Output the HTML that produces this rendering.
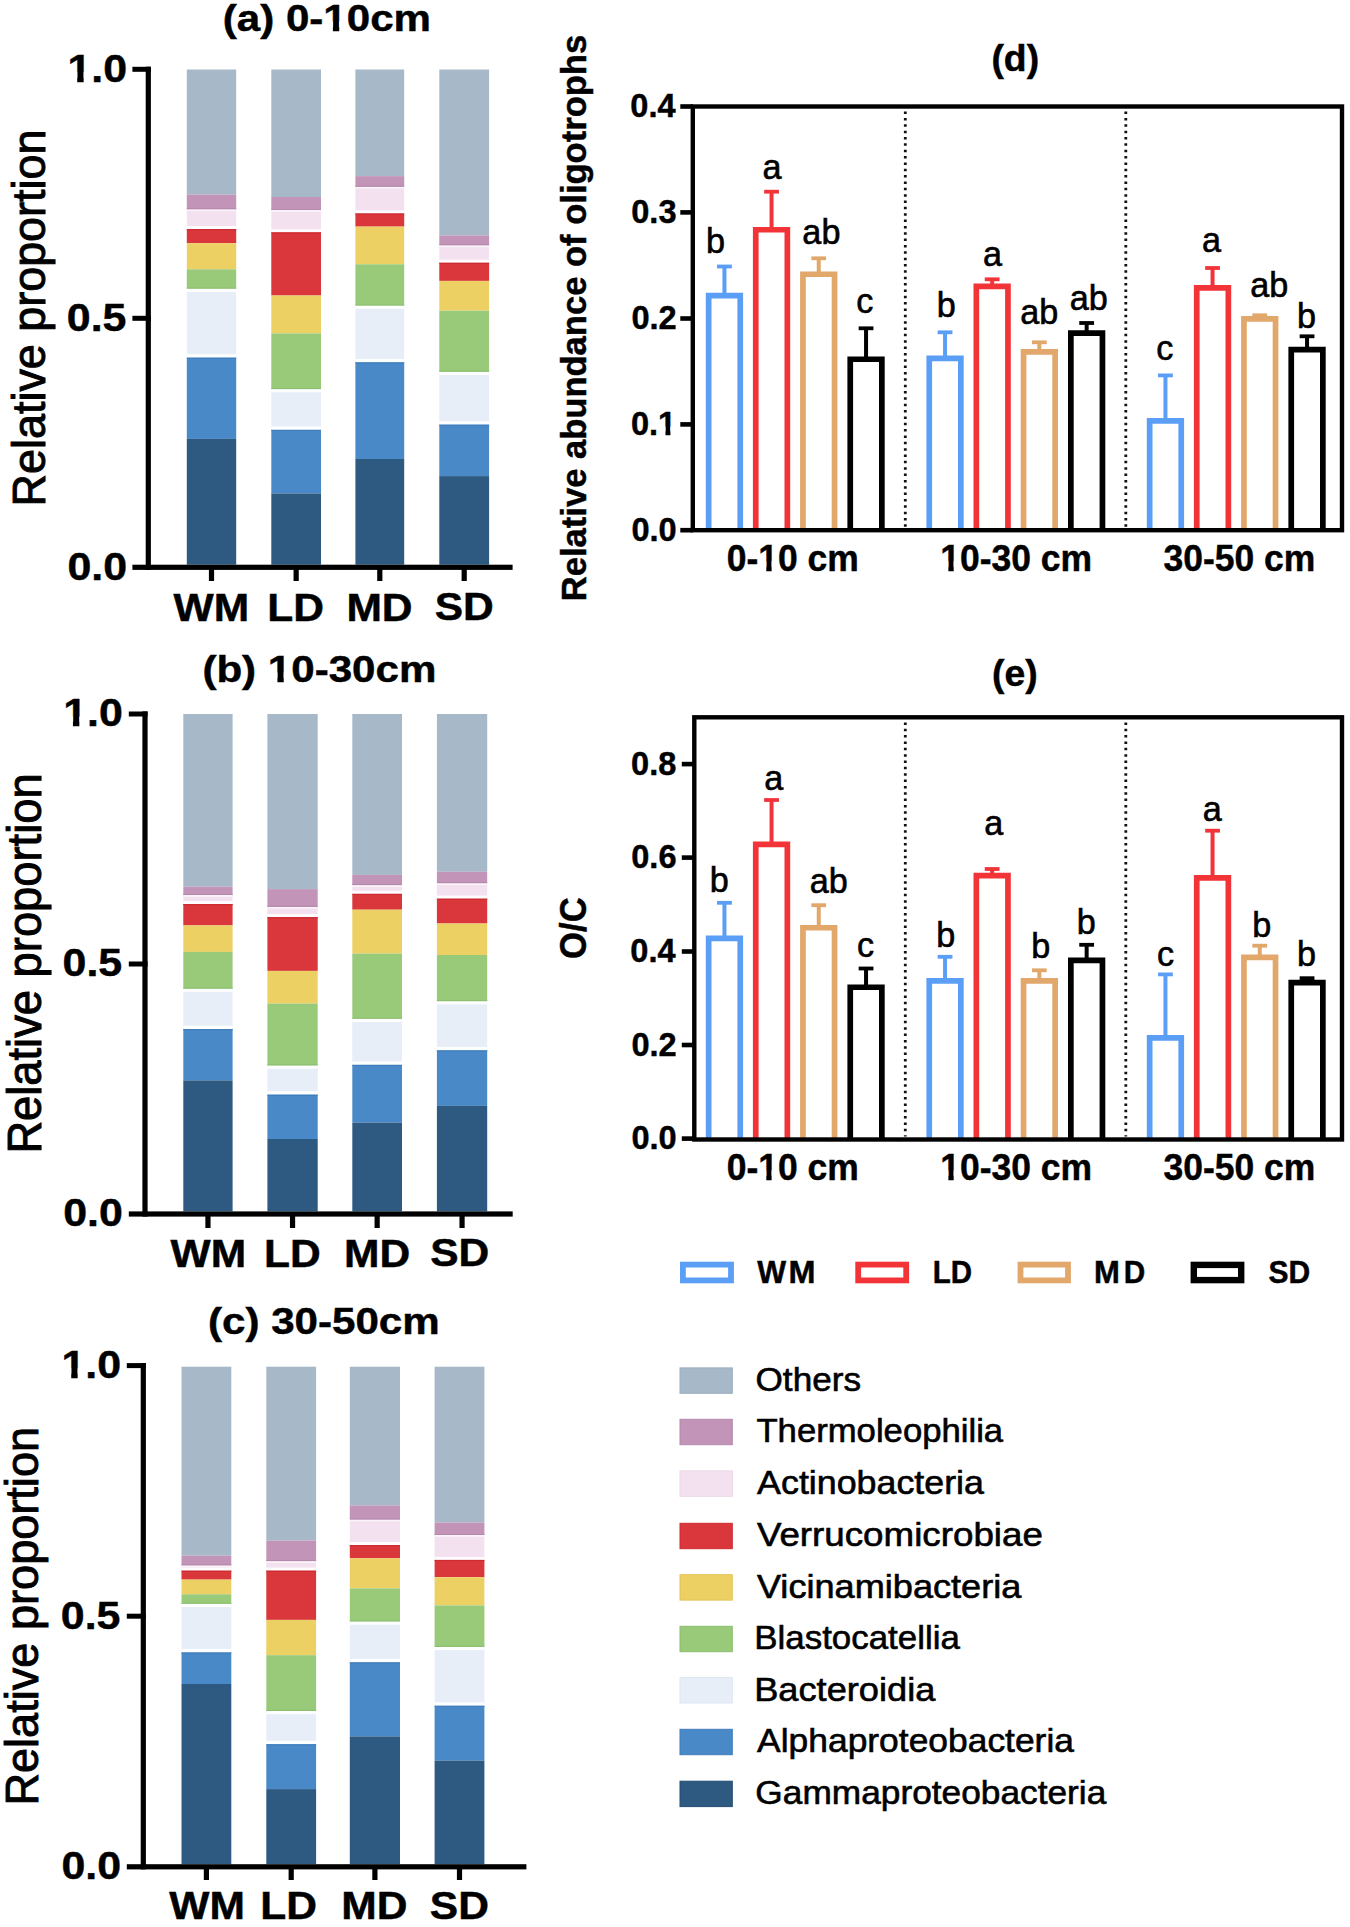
<!DOCTYPE html>
<html><head><meta charset="utf-8"><style>
html,body{margin:0;padding:0;background:#fff;}
svg{display:block;}
text{font-family:"Liberation Sans",sans-serif;}
text.b{stroke:#000;stroke-width:0.45px;}
text.r{stroke:#000;stroke-width:0.6px;}
text.rr{stroke:#000;stroke-width:0.9px;}
</style></head><body>
<svg width="1350" height="1927" viewBox="0 0 1350 1927">
<rect width="1350" height="1927" fill="#fff"/>
<text transform="translate(222.73,30.66) scale(1.1230,1)" font-size="37.50" font-weight="bold" fill="#000" class="b">(a) 0-10cm</text>
<g transform="translate(222.73,30.66) scale(1.1230,1)" fill="#fff"><rect x="90.69" y="-9.52" width="7.41" height="11.72"/><rect x="103.73" y="-9.52" width="6.92" height="11.72"/></g>
<rect x="186.80" y="69.50" width="49.40" height="125.10" fill="#a7b8c8"/>
<rect x="186.80" y="194.60" width="49.40" height="14.70" fill="#c295b8"/>
<rect x="186.80" y="209.30" width="49.40" height="19.70" fill="#f3e1ef"/>
<rect x="186.80" y="229.00" width="49.40" height="14.20" fill="#d9373b"/>
<rect x="186.80" y="243.20" width="49.40" height="26.10" fill="#edd063"/>
<rect x="186.80" y="269.30" width="49.40" height="19.40" fill="#98ca79"/>
<rect x="186.80" y="288.70" width="49.40" height="68.90" fill="#e7eef8"/>
<rect x="186.80" y="357.60" width="49.40" height="81.30" fill="#4a89c8"/>
<rect x="186.80" y="438.90" width="49.40" height="125.80" fill="#2e5a82"/>
<rect x="186.80" y="209.30" width="49.40" height="1.80" fill="#ffffff" fill-opacity="0.6"/>
<rect x="186.80" y="226.00" width="49.40" height="3.00" fill="#ffffff" fill-opacity="0.9"/>
<rect x="186.80" y="208.20" width="49.40" height="1.10" fill="#b688ac"/>
<rect x="186.80" y="229.00" width="49.40" height="1.20" fill="#cc2b30"/>
<rect x="186.80" y="288.70" width="49.40" height="3.20" fill="#ffffff" fill-opacity="0.9"/>
<rect x="186.80" y="354.20" width="49.40" height="3.40" fill="#ffffff" fill-opacity="0.9"/>
<rect x="186.80" y="287.60" width="49.40" height="1.10" fill="#8cbf6d"/>
<rect x="186.80" y="357.60" width="49.40" height="1.20" fill="#3f7dbb"/>
<rect x="271.30" y="69.50" width="49.70" height="127.50" fill="#a7b8c8"/>
<rect x="271.30" y="197.00" width="49.70" height="13.00" fill="#c295b8"/>
<rect x="271.30" y="210.00" width="49.70" height="22.30" fill="#f3e1ef"/>
<rect x="271.30" y="232.30" width="49.70" height="63.20" fill="#d9373b"/>
<rect x="271.30" y="295.50" width="49.70" height="37.90" fill="#edd063"/>
<rect x="271.30" y="333.40" width="49.70" height="55.70" fill="#98ca79"/>
<rect x="271.30" y="389.10" width="49.70" height="40.70" fill="#e7eef8"/>
<rect x="271.30" y="429.80" width="49.70" height="63.60" fill="#4a89c8"/>
<rect x="271.30" y="493.40" width="49.70" height="71.30" fill="#2e5a82"/>
<rect x="271.30" y="210.00" width="49.70" height="1.80" fill="#ffffff" fill-opacity="0.6"/>
<rect x="271.30" y="229.30" width="49.70" height="3.00" fill="#ffffff" fill-opacity="0.9"/>
<rect x="271.30" y="208.90" width="49.70" height="1.10" fill="#b688ac"/>
<rect x="271.30" y="232.30" width="49.70" height="1.20" fill="#cc2b30"/>
<rect x="271.30" y="389.10" width="49.70" height="3.20" fill="#ffffff" fill-opacity="0.9"/>
<rect x="271.30" y="426.40" width="49.70" height="3.40" fill="#ffffff" fill-opacity="0.9"/>
<rect x="271.30" y="388.00" width="49.70" height="1.10" fill="#8cbf6d"/>
<rect x="271.30" y="429.80" width="49.70" height="1.20" fill="#3f7dbb"/>
<rect x="355.40" y="69.50" width="48.80" height="106.60" fill="#a7b8c8"/>
<rect x="355.40" y="176.10" width="48.80" height="10.70" fill="#c295b8"/>
<rect x="355.40" y="186.80" width="48.80" height="26.60" fill="#f3e1ef"/>
<rect x="355.40" y="213.40" width="48.80" height="13.20" fill="#d9373b"/>
<rect x="355.40" y="226.60" width="48.80" height="37.70" fill="#edd063"/>
<rect x="355.40" y="264.30" width="48.80" height="41.30" fill="#98ca79"/>
<rect x="355.40" y="305.60" width="48.80" height="56.70" fill="#e7eef8"/>
<rect x="355.40" y="362.30" width="48.80" height="96.70" fill="#4a89c8"/>
<rect x="355.40" y="459.00" width="48.80" height="105.70" fill="#2e5a82"/>
<rect x="355.40" y="186.80" width="48.80" height="1.80" fill="#ffffff" fill-opacity="0.6"/>
<rect x="355.40" y="210.40" width="48.80" height="3.00" fill="#ffffff" fill-opacity="0.9"/>
<rect x="355.40" y="185.70" width="48.80" height="1.10" fill="#b688ac"/>
<rect x="355.40" y="213.40" width="48.80" height="1.20" fill="#cc2b30"/>
<rect x="355.40" y="305.60" width="48.80" height="3.20" fill="#ffffff" fill-opacity="0.9"/>
<rect x="355.40" y="358.90" width="48.80" height="3.40" fill="#ffffff" fill-opacity="0.9"/>
<rect x="355.40" y="304.50" width="48.80" height="1.10" fill="#8cbf6d"/>
<rect x="355.40" y="362.30" width="48.80" height="1.20" fill="#3f7dbb"/>
<rect x="439.30" y="69.50" width="49.80" height="165.90" fill="#a7b8c8"/>
<rect x="439.30" y="235.40" width="49.80" height="9.90" fill="#c295b8"/>
<rect x="439.30" y="245.30" width="49.80" height="17.40" fill="#f3e1ef"/>
<rect x="439.30" y="262.70" width="49.80" height="18.20" fill="#d9373b"/>
<rect x="439.30" y="280.90" width="49.80" height="29.80" fill="#edd063"/>
<rect x="439.30" y="310.70" width="49.80" height="61.10" fill="#98ca79"/>
<rect x="439.30" y="371.80" width="49.80" height="52.80" fill="#e7eef8"/>
<rect x="439.30" y="424.60" width="49.80" height="51.50" fill="#4a89c8"/>
<rect x="439.30" y="476.10" width="49.80" height="88.60" fill="#2e5a82"/>
<rect x="439.30" y="245.30" width="49.80" height="1.80" fill="#ffffff" fill-opacity="0.6"/>
<rect x="439.30" y="259.70" width="49.80" height="3.00" fill="#ffffff" fill-opacity="0.9"/>
<rect x="439.30" y="244.20" width="49.80" height="1.10" fill="#b688ac"/>
<rect x="439.30" y="262.70" width="49.80" height="1.20" fill="#cc2b30"/>
<rect x="439.30" y="371.80" width="49.80" height="3.20" fill="#ffffff" fill-opacity="0.9"/>
<rect x="439.30" y="421.20" width="49.80" height="3.40" fill="#ffffff" fill-opacity="0.9"/>
<rect x="439.30" y="370.70" width="49.80" height="1.10" fill="#8cbf6d"/>
<rect x="439.30" y="424.60" width="49.80" height="1.20" fill="#3f7dbb"/>
<rect x="145.70" y="66.70" width="5.20" height="503.20" fill="#000"/>
<rect x="132.40" y="564.70" width="380.20" height="5.20" fill="#000"/>
<rect x="132.40" y="66.80" width="18.50" height="5.00" fill="#000"/>
<rect x="132.40" y="315.80" width="18.50" height="5.00" fill="#000"/>
<rect x="208.90" y="567.30" width="5.20" height="13.70" fill="#000"/>
<rect x="293.55" y="567.30" width="5.20" height="13.70" fill="#000"/>
<rect x="377.20" y="567.30" width="5.20" height="13.70" fill="#000"/>
<rect x="461.60" y="567.30" width="5.20" height="13.70" fill="#000"/>
<text transform="translate(67.48,81.75) scale(1.1000,1)" font-size="39.00" font-weight="bold" fill="#000" class="b">1.0</text>
<g transform="translate(67.48,81.75) scale(1.1000,1)" fill="#fff"><rect x="1.14" y="-9.90" width="7.72" height="12.19"/><rect x="14.70" y="-9.90" width="7.20" height="12.19"/></g>
<text transform="translate(66.84,330.75) scale(1.1000,1)" font-size="39.00" font-weight="bold" fill="#000" class="b">0.5</text>
<text transform="translate(67.48,579.75) scale(1.1000,1)" font-size="39.00" font-weight="bold" fill="#000" class="b">0.0</text>
<text transform="translate(173.51,620.50) scale(1.1200,1)" font-size="38.00" font-weight="bold" fill="#000" class="b">WM</text>
<text transform="translate(267.32,620.50) scale(1.1200,1)" font-size="38.00" font-weight="bold" fill="#000" class="b">LD</text>
<text transform="translate(346.38,620.50) scale(1.1200,1)" font-size="38.00" font-weight="bold" fill="#000" class="b">MD</text>
<text transform="translate(434.74,620.12) scale(1.1200,1)" font-size="38.00" font-weight="bold" fill="#000" class="b">SD</text>
<text transform="translate(44.61,506.39) rotate(-90) scale(1,1.0386)" font-size="44.90" font-weight="normal" fill="#000" class="rr">Relative proportion</text>
<text transform="translate(202.39,681.91) scale(1.1230,1)" font-size="37.50" font-weight="bold" fill="#000" class="b">(b) 10-30cm</text>
<g transform="translate(202.39,681.91) scale(1.1230,1)" fill="#fff"><rect x="59.40" y="-9.52" width="7.41" height="11.72"/><rect x="72.44" y="-9.52" width="6.92" height="11.72"/></g>
<rect x="183.30" y="714.00" width="49.30" height="172.70" fill="#a7b8c8"/>
<rect x="183.30" y="886.70" width="49.30" height="8.30" fill="#c295b8"/>
<rect x="183.30" y="895.00" width="49.30" height="9.00" fill="#f3e1ef"/>
<rect x="183.30" y="904.00" width="49.30" height="21.40" fill="#d9373b"/>
<rect x="183.30" y="925.40" width="49.30" height="26.50" fill="#edd063"/>
<rect x="183.30" y="951.90" width="49.30" height="36.80" fill="#98ca79"/>
<rect x="183.30" y="988.70" width="49.30" height="40.30" fill="#e7eef8"/>
<rect x="183.30" y="1029.00" width="49.30" height="51.40" fill="#4a89c8"/>
<rect x="183.30" y="1080.40" width="49.30" height="131.00" fill="#2e5a82"/>
<rect x="183.30" y="895.00" width="49.30" height="1.80" fill="#ffffff" fill-opacity="0.6"/>
<rect x="183.30" y="901.00" width="49.30" height="3.00" fill="#ffffff" fill-opacity="0.9"/>
<rect x="183.30" y="893.90" width="49.30" height="1.10" fill="#b688ac"/>
<rect x="183.30" y="904.00" width="49.30" height="1.20" fill="#cc2b30"/>
<rect x="183.30" y="988.70" width="49.30" height="3.20" fill="#ffffff" fill-opacity="0.9"/>
<rect x="183.30" y="1025.60" width="49.30" height="3.40" fill="#ffffff" fill-opacity="0.9"/>
<rect x="183.30" y="987.60" width="49.30" height="1.10" fill="#8cbf6d"/>
<rect x="183.30" y="1029.00" width="49.30" height="1.20" fill="#3f7dbb"/>
<rect x="267.40" y="714.00" width="50.30" height="175.10" fill="#a7b8c8"/>
<rect x="267.40" y="889.10" width="50.30" height="17.80" fill="#c295b8"/>
<rect x="267.40" y="906.90" width="50.30" height="10.20" fill="#f3e1ef"/>
<rect x="267.40" y="917.10" width="50.30" height="53.80" fill="#d9373b"/>
<rect x="267.40" y="970.90" width="50.30" height="32.70" fill="#edd063"/>
<rect x="267.40" y="1003.60" width="50.30" height="61.90" fill="#98ca79"/>
<rect x="267.40" y="1065.50" width="50.30" height="29.10" fill="#e7eef8"/>
<rect x="267.40" y="1094.60" width="50.30" height="44.40" fill="#4a89c8"/>
<rect x="267.40" y="1139.00" width="50.30" height="72.40" fill="#2e5a82"/>
<rect x="267.40" y="906.90" width="50.30" height="1.80" fill="#ffffff" fill-opacity="0.6"/>
<rect x="267.40" y="914.10" width="50.30" height="3.00" fill="#ffffff" fill-opacity="0.9"/>
<rect x="267.40" y="905.80" width="50.30" height="1.10" fill="#b688ac"/>
<rect x="267.40" y="917.10" width="50.30" height="1.20" fill="#cc2b30"/>
<rect x="267.40" y="1065.50" width="50.30" height="3.20" fill="#ffffff" fill-opacity="0.9"/>
<rect x="267.40" y="1091.20" width="50.30" height="3.40" fill="#ffffff" fill-opacity="0.9"/>
<rect x="267.40" y="1064.40" width="50.30" height="1.10" fill="#8cbf6d"/>
<rect x="267.40" y="1094.60" width="50.30" height="1.20" fill="#3f7dbb"/>
<rect x="352.30" y="714.00" width="49.70" height="160.90" fill="#a7b8c8"/>
<rect x="352.30" y="874.90" width="49.70" height="10.20" fill="#c295b8"/>
<rect x="352.30" y="885.10" width="49.70" height="8.70" fill="#f3e1ef"/>
<rect x="352.30" y="893.80" width="49.70" height="15.90" fill="#d9373b"/>
<rect x="352.30" y="909.70" width="49.70" height="43.90" fill="#edd063"/>
<rect x="352.30" y="953.60" width="49.70" height="65.20" fill="#98ca79"/>
<rect x="352.30" y="1018.80" width="49.70" height="46.00" fill="#e7eef8"/>
<rect x="352.30" y="1064.80" width="49.70" height="57.80" fill="#4a89c8"/>
<rect x="352.30" y="1122.60" width="49.70" height="88.80" fill="#2e5a82"/>
<rect x="352.30" y="885.10" width="49.70" height="1.80" fill="#ffffff" fill-opacity="0.6"/>
<rect x="352.30" y="890.80" width="49.70" height="3.00" fill="#ffffff" fill-opacity="0.9"/>
<rect x="352.30" y="884.00" width="49.70" height="1.10" fill="#b688ac"/>
<rect x="352.30" y="893.80" width="49.70" height="1.20" fill="#cc2b30"/>
<rect x="352.30" y="1018.80" width="49.70" height="3.20" fill="#ffffff" fill-opacity="0.9"/>
<rect x="352.30" y="1061.40" width="49.70" height="3.40" fill="#ffffff" fill-opacity="0.9"/>
<rect x="352.30" y="1017.70" width="49.70" height="1.10" fill="#8cbf6d"/>
<rect x="352.30" y="1064.80" width="49.70" height="1.20" fill="#3f7dbb"/>
<rect x="436.90" y="714.00" width="50.30" height="157.80" fill="#a7b8c8"/>
<rect x="436.90" y="871.80" width="50.30" height="11.40" fill="#c295b8"/>
<rect x="436.90" y="883.20" width="50.30" height="15.40" fill="#f3e1ef"/>
<rect x="436.90" y="898.60" width="50.30" height="24.90" fill="#d9373b"/>
<rect x="436.90" y="923.50" width="50.30" height="31.50" fill="#edd063"/>
<rect x="436.90" y="955.00" width="50.30" height="46.20" fill="#98ca79"/>
<rect x="436.90" y="1001.20" width="50.30" height="49.10" fill="#e7eef8"/>
<rect x="436.90" y="1050.30" width="50.30" height="55.60" fill="#4a89c8"/>
<rect x="436.90" y="1105.90" width="50.30" height="105.50" fill="#2e5a82"/>
<rect x="436.90" y="883.20" width="50.30" height="1.80" fill="#ffffff" fill-opacity="0.6"/>
<rect x="436.90" y="895.60" width="50.30" height="3.00" fill="#ffffff" fill-opacity="0.9"/>
<rect x="436.90" y="882.10" width="50.30" height="1.10" fill="#b688ac"/>
<rect x="436.90" y="898.60" width="50.30" height="1.20" fill="#cc2b30"/>
<rect x="436.90" y="1001.20" width="50.30" height="3.20" fill="#ffffff" fill-opacity="0.9"/>
<rect x="436.90" y="1046.90" width="50.30" height="3.40" fill="#ffffff" fill-opacity="0.9"/>
<rect x="436.90" y="1000.10" width="50.30" height="1.10" fill="#8cbf6d"/>
<rect x="436.90" y="1050.30" width="50.30" height="1.20" fill="#3f7dbb"/>
<rect x="142.40" y="711.40" width="5.20" height="505.20" fill="#000"/>
<rect x="128.80" y="1211.40" width="383.90" height="5.20" fill="#000"/>
<rect x="128.80" y="711.50" width="18.80" height="5.00" fill="#000"/>
<rect x="128.80" y="961.50" width="18.80" height="5.00" fill="#000"/>
<rect x="205.35" y="1214.00" width="5.20" height="14.00" fill="#000"/>
<rect x="289.95" y="1214.00" width="5.20" height="14.00" fill="#000"/>
<rect x="374.55" y="1214.00" width="5.20" height="14.00" fill="#000"/>
<rect x="459.45" y="1214.00" width="5.20" height="14.00" fill="#000"/>
<text transform="translate(63.18,726.46) scale(1.1000,1)" font-size="39.00" font-weight="bold" fill="#000" class="b">1.0</text>
<g transform="translate(63.18,726.46) scale(1.1000,1)" fill="#fff"><rect x="1.14" y="-9.90" width="7.72" height="12.19"/><rect x="14.70" y="-9.90" width="7.20" height="12.19"/></g>
<text transform="translate(62.54,976.46) scale(1.1000,1)" font-size="39.00" font-weight="bold" fill="#000" class="b">0.5</text>
<text transform="translate(63.18,1226.45) scale(1.1000,1)" font-size="39.00" font-weight="bold" fill="#000" class="b">0.0</text>
<text transform="translate(170.61,1266.70) scale(1.1200,1)" font-size="38.00" font-weight="bold" fill="#000" class="b">WM</text>
<text transform="translate(264.07,1266.70) scale(1.1200,1)" font-size="38.00" font-weight="bold" fill="#000" class="b">LD</text>
<text transform="translate(344.03,1266.70) scale(1.1200,1)" font-size="38.00" font-weight="bold" fill="#000" class="b">MD</text>
<text transform="translate(430.19,1266.32) scale(1.1200,1)" font-size="38.00" font-weight="bold" fill="#000" class="b">SD</text>
<text transform="translate(41.02,1153.62) rotate(-90) scale(1,1.0599)" font-size="45.31" font-weight="normal" fill="#000" class="rr">Relative proportion</text>
<text transform="translate(208.05,1333.56) scale(1.1230,1)" font-size="37.50" font-weight="bold" fill="#000" class="b">(c) 30-50cm</text>
<rect x="181.50" y="1366.70" width="49.80" height="189.00" fill="#a7b8c8"/>
<rect x="181.50" y="1555.70" width="49.80" height="9.70" fill="#c295b8"/>
<rect x="181.50" y="1565.40" width="49.80" height="5.20" fill="#f3e1ef"/>
<rect x="181.50" y="1570.60" width="49.80" height="9.00" fill="#d9373b"/>
<rect x="181.50" y="1579.60" width="49.80" height="14.70" fill="#edd063"/>
<rect x="181.50" y="1594.30" width="49.80" height="9.50" fill="#98ca79"/>
<rect x="181.50" y="1603.80" width="49.80" height="48.60" fill="#e7eef8"/>
<rect x="181.50" y="1652.40" width="49.80" height="31.60" fill="#4a89c8"/>
<rect x="181.50" y="1684.00" width="49.80" height="180.20" fill="#2e5a82"/>
<rect x="181.50" y="1565.40" width="49.80" height="1.80" fill="#ffffff" fill-opacity="0.6"/>
<rect x="181.50" y="1567.60" width="49.80" height="3.00" fill="#ffffff" fill-opacity="0.9"/>
<rect x="181.50" y="1564.30" width="49.80" height="1.10" fill="#b688ac"/>
<rect x="181.50" y="1570.60" width="49.80" height="1.20" fill="#cc2b30"/>
<rect x="181.50" y="1603.80" width="49.80" height="3.20" fill="#ffffff" fill-opacity="0.9"/>
<rect x="181.50" y="1649.00" width="49.80" height="3.40" fill="#ffffff" fill-opacity="0.9"/>
<rect x="181.50" y="1602.70" width="49.80" height="1.10" fill="#8cbf6d"/>
<rect x="181.50" y="1652.40" width="49.80" height="1.20" fill="#3f7dbb"/>
<rect x="266.30" y="1366.70" width="49.80" height="173.80" fill="#a7b8c8"/>
<rect x="266.30" y="1540.50" width="49.80" height="20.60" fill="#c295b8"/>
<rect x="266.30" y="1561.10" width="49.80" height="9.50" fill="#f3e1ef"/>
<rect x="266.30" y="1570.60" width="49.80" height="49.30" fill="#d9373b"/>
<rect x="266.30" y="1619.90" width="49.80" height="35.30" fill="#edd063"/>
<rect x="266.30" y="1655.20" width="49.80" height="55.80" fill="#98ca79"/>
<rect x="266.30" y="1711.00" width="49.80" height="33.20" fill="#e7eef8"/>
<rect x="266.30" y="1744.20" width="49.80" height="44.90" fill="#4a89c8"/>
<rect x="266.30" y="1789.10" width="49.80" height="75.10" fill="#2e5a82"/>
<rect x="266.30" y="1561.10" width="49.80" height="1.80" fill="#ffffff" fill-opacity="0.6"/>
<rect x="266.30" y="1567.60" width="49.80" height="3.00" fill="#ffffff" fill-opacity="0.9"/>
<rect x="266.30" y="1560.00" width="49.80" height="1.10" fill="#b688ac"/>
<rect x="266.30" y="1570.60" width="49.80" height="1.20" fill="#cc2b30"/>
<rect x="266.30" y="1711.00" width="49.80" height="3.20" fill="#ffffff" fill-opacity="0.9"/>
<rect x="266.30" y="1740.80" width="49.80" height="3.40" fill="#ffffff" fill-opacity="0.9"/>
<rect x="266.30" y="1709.90" width="49.80" height="1.10" fill="#8cbf6d"/>
<rect x="266.30" y="1744.20" width="49.80" height="1.20" fill="#3f7dbb"/>
<rect x="349.80" y="1366.70" width="50.20" height="138.70" fill="#a7b8c8"/>
<rect x="349.80" y="1505.40" width="50.20" height="14.20" fill="#c295b8"/>
<rect x="349.80" y="1519.60" width="50.20" height="25.40" fill="#f3e1ef"/>
<rect x="349.80" y="1545.00" width="50.20" height="13.30" fill="#d9373b"/>
<rect x="349.80" y="1558.30" width="50.20" height="30.10" fill="#edd063"/>
<rect x="349.80" y="1588.40" width="50.20" height="33.10" fill="#98ca79"/>
<rect x="349.80" y="1621.50" width="50.20" height="40.80" fill="#e7eef8"/>
<rect x="349.80" y="1662.30" width="50.20" height="74.10" fill="#4a89c8"/>
<rect x="349.80" y="1736.40" width="50.20" height="127.80" fill="#2e5a82"/>
<rect x="349.80" y="1519.60" width="50.20" height="1.80" fill="#ffffff" fill-opacity="0.6"/>
<rect x="349.80" y="1542.00" width="50.20" height="3.00" fill="#ffffff" fill-opacity="0.9"/>
<rect x="349.80" y="1518.50" width="50.20" height="1.10" fill="#b688ac"/>
<rect x="349.80" y="1545.00" width="50.20" height="1.20" fill="#cc2b30"/>
<rect x="349.80" y="1621.50" width="50.20" height="3.20" fill="#ffffff" fill-opacity="0.9"/>
<rect x="349.80" y="1658.90" width="50.20" height="3.40" fill="#ffffff" fill-opacity="0.9"/>
<rect x="349.80" y="1620.40" width="50.20" height="1.10" fill="#8cbf6d"/>
<rect x="349.80" y="1662.30" width="50.20" height="1.20" fill="#3f7dbb"/>
<rect x="434.60" y="1366.70" width="49.80" height="155.80" fill="#a7b8c8"/>
<rect x="434.60" y="1522.50" width="49.80" height="12.50" fill="#c295b8"/>
<rect x="434.60" y="1535.00" width="49.80" height="24.90" fill="#f3e1ef"/>
<rect x="434.60" y="1559.90" width="49.80" height="17.30" fill="#d9373b"/>
<rect x="434.60" y="1577.20" width="49.80" height="28.20" fill="#edd063"/>
<rect x="434.60" y="1605.40" width="49.80" height="41.50" fill="#98ca79"/>
<rect x="434.60" y="1646.90" width="49.80" height="58.80" fill="#e7eef8"/>
<rect x="434.60" y="1705.70" width="49.80" height="54.90" fill="#4a89c8"/>
<rect x="434.60" y="1760.60" width="49.80" height="103.60" fill="#2e5a82"/>
<rect x="434.60" y="1535.00" width="49.80" height="1.80" fill="#ffffff" fill-opacity="0.6"/>
<rect x="434.60" y="1556.90" width="49.80" height="3.00" fill="#ffffff" fill-opacity="0.9"/>
<rect x="434.60" y="1533.90" width="49.80" height="1.10" fill="#b688ac"/>
<rect x="434.60" y="1559.90" width="49.80" height="1.20" fill="#cc2b30"/>
<rect x="434.60" y="1646.90" width="49.80" height="3.20" fill="#ffffff" fill-opacity="0.9"/>
<rect x="434.60" y="1702.30" width="49.80" height="3.40" fill="#ffffff" fill-opacity="0.9"/>
<rect x="434.60" y="1645.80" width="49.80" height="1.10" fill="#8cbf6d"/>
<rect x="434.60" y="1705.70" width="49.80" height="1.20" fill="#3f7dbb"/>
<rect x="140.70" y="1363.00" width="5.20" height="506.40" fill="#000"/>
<rect x="126.80" y="1864.20" width="399.60" height="5.20" fill="#000"/>
<rect x="126.80" y="1363.10" width="19.10" height="5.00" fill="#000"/>
<rect x="126.80" y="1613.70" width="19.10" height="5.00" fill="#000"/>
<rect x="203.80" y="1866.80" width="5.20" height="13.20" fill="#000"/>
<rect x="288.60" y="1866.80" width="5.20" height="13.20" fill="#000"/>
<rect x="372.30" y="1866.80" width="5.20" height="13.20" fill="#000"/>
<rect x="456.90" y="1866.80" width="5.20" height="13.20" fill="#000"/>
<text transform="translate(61.48,1378.05) scale(1.1000,1)" font-size="39.00" font-weight="bold" fill="#000" class="b">1.0</text>
<g transform="translate(61.48,1378.05) scale(1.1000,1)" fill="#fff"><rect x="1.14" y="-9.90" width="7.72" height="12.19"/><rect x="14.70" y="-9.90" width="7.20" height="12.19"/></g>
<text transform="translate(60.84,1628.65) scale(1.1000,1)" font-size="39.00" font-weight="bold" fill="#000" class="b">0.5</text>
<text transform="translate(61.48,1879.25) scale(1.1000,1)" font-size="39.00" font-weight="bold" fill="#000" class="b">0.0</text>
<text transform="translate(169.31,1919.10) scale(1.1200,1)" font-size="38.00" font-weight="bold" fill="#000" class="b">WM</text>
<text transform="translate(260.22,1919.10) scale(1.1200,1)" font-size="38.00" font-weight="bold" fill="#000" class="b">LD</text>
<text transform="translate(341.28,1919.10) scale(1.1200,1)" font-size="38.00" font-weight="bold" fill="#000" class="b">MD</text>
<text transform="translate(429.79,1918.72) scale(1.1200,1)" font-size="38.00" font-weight="bold" fill="#000" class="b">SD</text>
<text transform="translate(38.27,1805.61) rotate(-90) scale(1,1.0265)" font-size="45.12" font-weight="normal" fill="#000" class="rr">Relative proportion</text>
<text transform="translate(991.41,71.22) scale(1.0200,1)" font-size="36.60" font-weight="bold" fill="#000" class="b">(d)</text>
<line x1="905.3" y1="111.6" x2="905.3" y2="527.2" stroke="#111" stroke-width="2.8" stroke-dasharray="2.5,3.85"/>
<line x1="1125.8" y1="111.6" x2="1125.8" y2="527.2" stroke="#111" stroke-width="2.8" stroke-dasharray="2.5,3.85"/>
<line x1="724.45" y1="266.50" x2="724.45" y2="295.55" stroke="#5b9ef6" stroke-width="4"/>
<line x1="717.05" y1="266.50" x2="731.85" y2="266.50" stroke="#5b9ef6" stroke-width="3.8"/>
<path d="M708.65 530.20V295.55H740.25V530.20" fill="none" stroke="#5b9ef6" stroke-width="5.7" stroke-linejoin="miter"/>
<line x1="771.55" y1="191.70" x2="771.55" y2="229.75" stroke="#f23439" stroke-width="4"/>
<line x1="764.15" y1="191.70" x2="778.95" y2="191.70" stroke="#f23439" stroke-width="3.8"/>
<path d="M755.75 530.20V229.75H787.35V530.20" fill="none" stroke="#f23439" stroke-width="5.7" stroke-linejoin="miter"/>
<line x1="818.75" y1="258.30" x2="818.75" y2="274.25" stroke="#e1a76b" stroke-width="4"/>
<line x1="811.35" y1="258.30" x2="826.15" y2="258.30" stroke="#e1a76b" stroke-width="3.8"/>
<path d="M802.95 530.20V274.25H834.55V530.20" fill="none" stroke="#e1a76b" stroke-width="5.7" stroke-linejoin="miter"/>
<line x1="866.05" y1="328.30" x2="866.05" y2="359.25" stroke="#000000" stroke-width="4"/>
<line x1="858.65" y1="328.30" x2="873.45" y2="328.30" stroke="#000000" stroke-width="3.8"/>
<path d="M850.25 530.20V359.25H881.85V530.20" fill="none" stroke="#000000" stroke-width="5.7" stroke-linejoin="miter"/>
<line x1="945.05" y1="332.30" x2="945.05" y2="358.35" stroke="#5b9ef6" stroke-width="4"/>
<line x1="937.65" y1="332.30" x2="952.45" y2="332.30" stroke="#5b9ef6" stroke-width="3.8"/>
<path d="M929.25 530.20V358.35H960.85V530.20" fill="none" stroke="#5b9ef6" stroke-width="5.7" stroke-linejoin="miter"/>
<line x1="992.15" y1="279.30" x2="992.15" y2="286.45" stroke="#f23439" stroke-width="4"/>
<line x1="984.75" y1="279.30" x2="999.55" y2="279.30" stroke="#f23439" stroke-width="3.8"/>
<path d="M976.35 530.20V286.45H1007.95V530.20" fill="none" stroke="#f23439" stroke-width="5.7" stroke-linejoin="miter"/>
<line x1="1039.35" y1="342.30" x2="1039.35" y2="351.85" stroke="#e1a76b" stroke-width="4"/>
<line x1="1031.95" y1="342.30" x2="1046.75" y2="342.30" stroke="#e1a76b" stroke-width="3.8"/>
<path d="M1023.55 530.20V351.85H1055.15V530.20" fill="none" stroke="#e1a76b" stroke-width="5.7" stroke-linejoin="miter"/>
<line x1="1086.65" y1="323.00" x2="1086.65" y2="333.05" stroke="#000000" stroke-width="4"/>
<line x1="1079.25" y1="323.00" x2="1094.05" y2="323.00" stroke="#000000" stroke-width="3.8"/>
<path d="M1070.85 530.20V333.05H1102.45V530.20" fill="none" stroke="#000000" stroke-width="5.7" stroke-linejoin="miter"/>
<line x1="1165.45" y1="375.40" x2="1165.45" y2="420.85" stroke="#5b9ef6" stroke-width="4"/>
<line x1="1158.05" y1="375.40" x2="1172.85" y2="375.40" stroke="#5b9ef6" stroke-width="3.8"/>
<path d="M1149.65 530.20V420.85H1181.25V530.20" fill="none" stroke="#5b9ef6" stroke-width="5.7" stroke-linejoin="miter"/>
<line x1="1212.55" y1="268.00" x2="1212.55" y2="287.85" stroke="#f23439" stroke-width="4"/>
<line x1="1205.15" y1="268.00" x2="1219.95" y2="268.00" stroke="#f23439" stroke-width="3.8"/>
<path d="M1196.75 530.20V287.85H1228.35V530.20" fill="none" stroke="#f23439" stroke-width="5.7" stroke-linejoin="miter"/>
<line x1="1259.75" y1="315.30" x2="1259.75" y2="318.85" stroke="#e1a76b" stroke-width="4"/>
<line x1="1252.35" y1="315.30" x2="1267.15" y2="315.30" stroke="#e1a76b" stroke-width="3.8"/>
<path d="M1243.95 530.20V318.85H1275.55V530.20" fill="none" stroke="#e1a76b" stroke-width="5.7" stroke-linejoin="miter"/>
<line x1="1307.05" y1="336.30" x2="1307.05" y2="349.65" stroke="#000000" stroke-width="4"/>
<line x1="1299.65" y1="336.30" x2="1314.45" y2="336.30" stroke="#000000" stroke-width="3.8"/>
<path d="M1291.25 530.20V349.65H1322.85V530.20" fill="none" stroke="#000000" stroke-width="5.7" stroke-linejoin="miter"/>
<rect x="692.80" y="106.50" width="649.20" height="423.70" fill="none" stroke="#000" stroke-width="4.4"/>
<rect x="680.30" y="527.90" width="12.50" height="4.60" fill="#000"/>
<text transform="translate(631.44,540.92) scale(0.9750,1)" font-size="33.40" font-weight="bold" fill="#000" class="b">0.0</text>
<rect x="680.30" y="422.10" width="12.50" height="4.60" fill="#000"/>
<text transform="translate(630.95,435.12) scale(0.9750,1)" font-size="33.40" font-weight="bold" fill="#000" class="b">0.1</text>
<g transform="translate(630.95,435.12) scale(0.9750,1)" fill="#fff"><rect x="28.83" y="-8.48" width="6.58" height="10.44"/><rect x="40.47" y="-8.48" width="6.14" height="10.44"/></g>
<rect x="680.30" y="316.20" width="12.50" height="4.60" fill="#000"/>
<text transform="translate(631.44,329.22) scale(0.9750,1)" font-size="33.40" font-weight="bold" fill="#000" class="b">0.2</text>
<rect x="680.30" y="210.10" width="12.50" height="4.60" fill="#000"/>
<text transform="translate(631.27,223.12) scale(0.9750,1)" font-size="33.40" font-weight="bold" fill="#000" class="b">0.3</text>
<rect x="680.30" y="104.20" width="12.50" height="4.60" fill="#000"/>
<text transform="translate(630.30,117.22) scale(0.9750,1)" font-size="33.40" font-weight="bold" fill="#000" class="b">0.4</text>
<text transform="translate(726.72,570.72) scale(0.9430,1)" font-size="37.60" font-weight="bold" fill="#000" class="b">0-10 cm</text>
<g transform="translate(726.72,570.72) scale(0.9430,1)" fill="#fff"><rect x="34.53" y="-9.55" width="7.43" height="11.75"/><rect x="47.61" y="-9.55" width="6.94" height="11.75"/></g>
<text transform="translate(940.32,570.72) scale(0.9430,1)" font-size="37.60" font-weight="bold" fill="#000" class="b">10-30 cm</text>
<g transform="translate(940.32,570.72) scale(0.9430,1)" fill="#fff"><rect x="1.10" y="-9.55" width="7.43" height="11.75"/><rect x="14.18" y="-9.55" width="6.94" height="11.75"/></g>
<text transform="translate(1163.54,570.72) scale(0.9430,1)" font-size="37.60" font-weight="bold" fill="#000" class="b">30-50 cm</text>
<text transform="translate(705.88,252.86) scale(1.0000,1)" font-size="34.20" font-weight="normal" fill="#000" class="r">b</text>
<text transform="translate(762.53,178.96) scale(1.0000,1)" font-size="34.20" font-weight="normal" fill="#000" class="r">a</text>
<text transform="translate(802.37,243.76) scale(1.0000,1)" font-size="34.20" font-weight="normal" fill="#000" class="r">ab</text>
<text transform="translate(856.29,313.16) scale(1.0000,1)" font-size="34.20" font-weight="normal" fill="#000" class="r">c</text>
<text transform="translate(936.68,316.66) scale(1.0000,1)" font-size="34.20" font-weight="normal" fill="#000" class="r">b</text>
<text transform="translate(982.93,266.06) scale(1.0000,1)" font-size="34.20" font-weight="normal" fill="#000" class="r">a</text>
<text transform="translate(1020.22,324.16) scale(1.0000,1)" font-size="34.20" font-weight="normal" fill="#000" class="r">ab</text>
<text transform="translate(1069.72,309.66) scale(1.0000,1)" font-size="34.20" font-weight="normal" fill="#000" class="r">ab</text>
<text transform="translate(1156.14,360.46) scale(1.0000,1)" font-size="34.20" font-weight="normal" fill="#000" class="r">c</text>
<text transform="translate(1201.98,251.96) scale(1.0000,1)" font-size="34.20" font-weight="normal" fill="#000" class="r">a</text>
<text transform="translate(1250.17,297.46) scale(1.0000,1)" font-size="34.20" font-weight="normal" fill="#000" class="r">ab</text>
<text transform="translate(1296.88,327.86) scale(1.0000,1)" font-size="34.20" font-weight="normal" fill="#000" class="r">b</text>
<text transform="translate(586.22,601.15) rotate(-90) scale(1,1.0302)" font-size="34.57" font-weight="bold" fill="#000" class="b">Relative abundance of oligotrophs</text>
<text transform="translate(992.03,685.87) scale(1.0200,1)" font-size="36.60" font-weight="bold" fill="#000" class="b">(e)</text>
<line x1="905.3" y1="722.4" x2="905.3" y2="1136.5" stroke="#111" stroke-width="2.8" stroke-dasharray="2.5,3.85"/>
<line x1="1125.8" y1="722.4" x2="1125.8" y2="1136.5" stroke="#111" stroke-width="2.8" stroke-dasharray="2.5,3.85"/>
<line x1="724.45" y1="902.80" x2="724.45" y2="938.45" stroke="#5b9ef6" stroke-width="4"/>
<line x1="717.05" y1="902.80" x2="731.85" y2="902.80" stroke="#5b9ef6" stroke-width="3.8"/>
<path d="M708.65 1139.50V938.45H740.25V1139.50" fill="none" stroke="#5b9ef6" stroke-width="5.7" stroke-linejoin="miter"/>
<line x1="771.55" y1="800.00" x2="771.55" y2="844.35" stroke="#f23439" stroke-width="4"/>
<line x1="764.15" y1="800.00" x2="778.95" y2="800.00" stroke="#f23439" stroke-width="3.8"/>
<path d="M755.75 1139.50V844.35H787.35V1139.50" fill="none" stroke="#f23439" stroke-width="5.7" stroke-linejoin="miter"/>
<line x1="818.75" y1="905.20" x2="818.75" y2="927.75" stroke="#e1a76b" stroke-width="4"/>
<line x1="811.35" y1="905.20" x2="826.15" y2="905.20" stroke="#e1a76b" stroke-width="3.8"/>
<path d="M802.95 1139.50V927.75H834.55V1139.50" fill="none" stroke="#e1a76b" stroke-width="5.7" stroke-linejoin="miter"/>
<line x1="866.05" y1="968.50" x2="866.05" y2="987.25" stroke="#000000" stroke-width="4"/>
<line x1="858.65" y1="968.50" x2="873.45" y2="968.50" stroke="#000000" stroke-width="3.8"/>
<path d="M850.25 1139.50V987.25H881.85V1139.50" fill="none" stroke="#000000" stroke-width="5.7" stroke-linejoin="miter"/>
<line x1="945.05" y1="956.80" x2="945.05" y2="980.95" stroke="#5b9ef6" stroke-width="4"/>
<line x1="937.65" y1="956.80" x2="952.45" y2="956.80" stroke="#5b9ef6" stroke-width="3.8"/>
<path d="M929.25 1139.50V980.95H960.85V1139.50" fill="none" stroke="#5b9ef6" stroke-width="5.7" stroke-linejoin="miter"/>
<line x1="992.15" y1="869.00" x2="992.15" y2="875.55" stroke="#f23439" stroke-width="4"/>
<line x1="984.75" y1="869.00" x2="999.55" y2="869.00" stroke="#f23439" stroke-width="3.8"/>
<path d="M976.35 1139.50V875.55H1007.95V1139.50" fill="none" stroke="#f23439" stroke-width="5.7" stroke-linejoin="miter"/>
<line x1="1039.35" y1="970.30" x2="1039.35" y2="980.95" stroke="#e1a76b" stroke-width="4"/>
<line x1="1031.95" y1="970.30" x2="1046.75" y2="970.30" stroke="#e1a76b" stroke-width="3.8"/>
<path d="M1023.55 1139.50V980.95H1055.15V1139.50" fill="none" stroke="#e1a76b" stroke-width="5.7" stroke-linejoin="miter"/>
<line x1="1086.65" y1="944.80" x2="1086.65" y2="960.45" stroke="#000000" stroke-width="4"/>
<line x1="1079.25" y1="944.80" x2="1094.05" y2="944.80" stroke="#000000" stroke-width="3.8"/>
<path d="M1070.85 1139.50V960.45H1102.45V1139.50" fill="none" stroke="#000000" stroke-width="5.7" stroke-linejoin="miter"/>
<line x1="1165.45" y1="974.40" x2="1165.45" y2="1037.85" stroke="#5b9ef6" stroke-width="4"/>
<line x1="1158.05" y1="974.40" x2="1172.85" y2="974.40" stroke="#5b9ef6" stroke-width="3.8"/>
<path d="M1149.65 1139.50V1037.85H1181.25V1139.50" fill="none" stroke="#5b9ef6" stroke-width="5.7" stroke-linejoin="miter"/>
<line x1="1212.55" y1="830.70" x2="1212.55" y2="877.95" stroke="#f23439" stroke-width="4"/>
<line x1="1205.15" y1="830.70" x2="1219.95" y2="830.70" stroke="#f23439" stroke-width="3.8"/>
<path d="M1196.75 1139.50V877.95H1228.35V1139.50" fill="none" stroke="#f23439" stroke-width="5.7" stroke-linejoin="miter"/>
<line x1="1259.75" y1="945.70" x2="1259.75" y2="957.35" stroke="#e1a76b" stroke-width="4"/>
<line x1="1252.35" y1="945.70" x2="1267.15" y2="945.70" stroke="#e1a76b" stroke-width="3.8"/>
<path d="M1243.95 1139.50V957.35H1275.55V1139.50" fill="none" stroke="#e1a76b" stroke-width="5.7" stroke-linejoin="miter"/>
<line x1="1307.05" y1="978.20" x2="1307.05" y2="982.55" stroke="#000000" stroke-width="4"/>
<line x1="1299.65" y1="978.20" x2="1314.45" y2="978.20" stroke="#000000" stroke-width="3.8"/>
<path d="M1291.25 1139.50V982.55H1322.85V1139.50" fill="none" stroke="#000000" stroke-width="5.7" stroke-linejoin="miter"/>
<rect x="694.30" y="717.30" width="647.70" height="422.20" fill="none" stroke="#000" stroke-width="4.4"/>
<rect x="681.80" y="1136.30" width="12.50" height="4.60" fill="#000"/>
<text transform="translate(631.44,1149.32) scale(0.9750,1)" font-size="33.40" font-weight="bold" fill="#000" class="b">0.0</text>
<rect x="681.80" y="1042.70" width="12.50" height="4.60" fill="#000"/>
<text transform="translate(631.44,1055.72) scale(0.9750,1)" font-size="33.40" font-weight="bold" fill="#000" class="b">0.2</text>
<rect x="681.80" y="949.20" width="12.50" height="4.60" fill="#000"/>
<text transform="translate(630.30,962.22) scale(0.9750,1)" font-size="33.40" font-weight="bold" fill="#000" class="b">0.4</text>
<rect x="681.80" y="855.30" width="12.50" height="4.60" fill="#000"/>
<text transform="translate(631.27,868.32) scale(0.9750,1)" font-size="33.40" font-weight="bold" fill="#000" class="b">0.6</text>
<rect x="681.80" y="761.80" width="12.50" height="4.60" fill="#000"/>
<text transform="translate(631.11,774.82) scale(0.9750,1)" font-size="33.40" font-weight="bold" fill="#000" class="b">0.8</text>
<text transform="translate(726.72,1179.92) scale(0.9430,1)" font-size="37.60" font-weight="bold" fill="#000" class="b">0-10 cm</text>
<g transform="translate(726.72,1179.92) scale(0.9430,1)" fill="#fff"><rect x="34.53" y="-9.55" width="7.43" height="11.75"/><rect x="47.61" y="-9.55" width="6.94" height="11.75"/></g>
<text transform="translate(940.32,1179.92) scale(0.9430,1)" font-size="37.60" font-weight="bold" fill="#000" class="b">10-30 cm</text>
<g transform="translate(940.32,1179.92) scale(0.9430,1)" fill="#fff"><rect x="1.10" y="-9.55" width="7.43" height="11.75"/><rect x="14.18" y="-9.55" width="6.94" height="11.75"/></g>
<text transform="translate(1163.54,1179.92) scale(0.9430,1)" font-size="37.60" font-weight="bold" fill="#000" class="b">30-50 cm</text>
<text transform="translate(709.78,892.46) scale(1.0000,1)" font-size="34.20" font-weight="normal" fill="#000" class="r">b</text>
<text transform="translate(764.33,789.86) scale(1.0000,1)" font-size="34.20" font-weight="normal" fill="#000" class="r">a</text>
<text transform="translate(809.72,892.96) scale(1.0000,1)" font-size="34.20" font-weight="normal" fill="#000" class="r">ab</text>
<text transform="translate(856.89,957.46) scale(1.0000,1)" font-size="34.20" font-weight="normal" fill="#000" class="r">c</text>
<text transform="translate(936.13,946.66) scale(1.0000,1)" font-size="34.20" font-weight="normal" fill="#000" class="r">b</text>
<text transform="translate(984.18,835.36) scale(1.0000,1)" font-size="34.20" font-weight="normal" fill="#000" class="r">a</text>
<text transform="translate(1031.33,958.16) scale(1.0000,1)" font-size="34.20" font-weight="normal" fill="#000" class="r">b</text>
<text transform="translate(1076.63,934.16) scale(1.0000,1)" font-size="34.20" font-weight="normal" fill="#000" class="r">b</text>
<text transform="translate(1156.99,965.86) scale(1.0000,1)" font-size="34.20" font-weight="normal" fill="#000" class="r">c</text>
<text transform="translate(1202.68,820.56) scale(1.0000,1)" font-size="34.20" font-weight="normal" fill="#000" class="r">a</text>
<text transform="translate(1252.13,936.66) scale(1.0000,1)" font-size="34.20" font-weight="normal" fill="#000" class="r">b</text>
<text transform="translate(1296.88,965.86) scale(1.0000,1)" font-size="34.20" font-weight="normal" fill="#000" class="r">b</text>
<text transform="translate(586.17,958.99) rotate(-90) scale(1,1.0549)" font-size="34.74" font-weight="bold" fill="#000" class="b">O/C</text>
<rect x="682.90" y="1264.60" width="48.10" height="15.80" fill="none" stroke="#5b9ef6" stroke-width="5.8"/>
<rect x="858.20" y="1264.60" width="48.00" height="15.80" fill="none" stroke="#f23439" stroke-width="5.8"/>
<rect x="1020.50" y="1264.60" width="47.50" height="15.80" fill="none" stroke="#e1a76b" stroke-width="5.8"/>
<rect x="1193.80" y="1264.90" width="47.40" height="15.20" fill="none" stroke="#000000" stroke-width="6.4"/>
<text transform="translate(757.20,1282.60) scale(0.9739,1)" font-size="31.40" font-weight="bold" fill="#000" class="b">W</text>
<text transform="translate(788.49,1282.60) scale(1.0328,1)" font-size="31.40" font-weight="bold" fill="#000" class="b">M</text>
<text transform="translate(932.78,1282.60) scale(0.9411,1)" font-size="31.40" font-weight="bold" fill="#000" class="b">LD</text>
<text transform="translate(1094.08,1282.60) scale(0.9873,1)" font-size="31.40" font-weight="bold" fill="#000" class="b">M</text>
<text transform="translate(1123.67,1282.60) scale(0.9476,1)" font-size="31.40" font-weight="bold" fill="#000" class="b">D</text>
<text transform="translate(1268.50,1282.60) scale(0.9566,1)" font-size="31.40" font-weight="bold" fill="#000" class="b">SD</text>
<rect x="680.00" y="1367.90" width="52.30" height="25.40" fill="#a7b8c8" stroke="#9cadbf" stroke-width="1"/>
<text transform="translate(755.52,1390.80) scale(1.0594,1)" font-size="33.20" font-weight="normal" fill="#000" class="r">Others</text>
<rect x="680.00" y="1419.30" width="52.30" height="25.40" fill="#c295b8" stroke="#b688ac" stroke-width="1"/>
<text transform="translate(756.41,1442.20) scale(1.0452,1)" font-size="33.20" font-weight="normal" fill="#000" class="r">Thermoleophilia</text>
<rect x="680.00" y="1470.90" width="52.30" height="25.40" fill="#f3e1ef" stroke="#ecd6e7" stroke-width="1"/>
<text transform="translate(757.10,1493.80) scale(1.0788,1)" font-size="33.20" font-weight="normal" fill="#000" class="r">Actinobacteria</text>
<rect x="680.00" y="1523.30" width="52.30" height="25.40" fill="#d9373b" stroke="#cc2b30" stroke-width="1"/>
<text transform="translate(756.92,1546.20) scale(1.1070,1)" font-size="33.20" font-weight="normal" fill="#000" class="r">Verrucomicrobiae</text>
<rect x="680.00" y="1574.70" width="52.30" height="25.40" fill="#edd063" stroke="#e4c457" stroke-width="1"/>
<text transform="translate(756.92,1597.60) scale(1.0887,1)" font-size="33.20" font-weight="normal" fill="#000" class="r">Vicinamibacteria</text>
<rect x="680.00" y="1626.30" width="52.30" height="25.40" fill="#98ca79" stroke="#8cbf6d" stroke-width="1"/>
<text transform="translate(754.31,1649.20) scale(1.0508,1)" font-size="33.20" font-weight="normal" fill="#000" class="r">Blastocatellia</text>
<rect x="680.00" y="1677.60" width="52.30" height="25.40" fill="#e7eef8" stroke="#dde6f2" stroke-width="1"/>
<text transform="translate(754.20,1700.50) scale(1.0909,1)" font-size="33.20" font-weight="normal" fill="#000" class="r">Bacteroidia</text>
<rect x="680.00" y="1729.30" width="52.30" height="25.40" fill="#4a89c8" stroke="#3f7dbb" stroke-width="1"/>
<text transform="translate(757.10,1752.20) scale(1.0665,1)" font-size="33.20" font-weight="normal" fill="#000" class="r">Alphaproteobacteria</text>
<rect x="680.00" y="1781.20" width="52.30" height="25.40" fill="#2e5a82" stroke="#234d74" stroke-width="1"/>
<text transform="translate(755.34,1804.10) scale(1.0624,1)" font-size="33.20" font-weight="normal" fill="#000" class="r">Gammaproteobacteria</text>
</svg>
</body></html>
